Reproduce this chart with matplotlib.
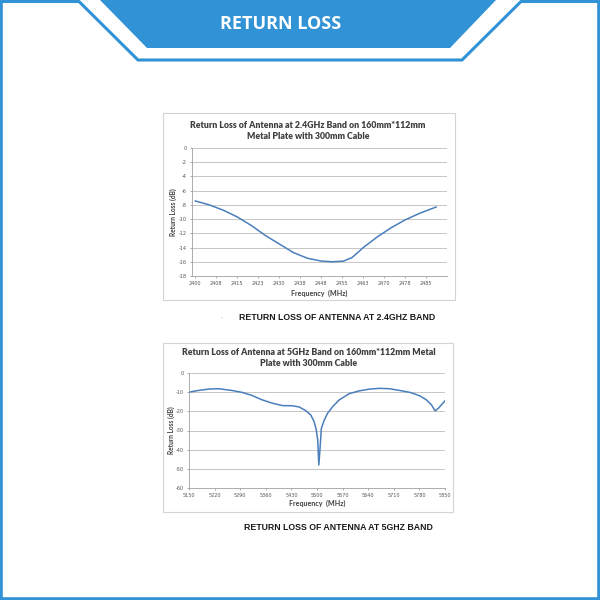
import matplotlib
matplotlib.use('Agg')
import matplotlib.pyplot as plt
from matplotlib.patches import Polygon, Rectangle

# Return loss at the 2.4 GHz band
freq_24 = [2400, 2405, 2410, 2415, 2420, 2425, 2430, 2435, 2440, 2445,
           2449, 2453, 2456, 2460, 2465, 2470, 2475, 2480, 2486]
rl_24 = [-7.45, -8.0, -8.75, -9.7, -10.9, -12.3, -13.5, -14.7, -15.5, -15.9,
         -16.0, -15.9, -15.4, -14.0, -12.5, -11.2, -10.1, -9.2, -8.3]
tick_labels_24 = ['2400', '2408', '2415', '2423', '2430', '2438',
                  '2448', '2455', '2463', '2470', '2478', '2485']

# Return loss at the 5 GHz band
freq_5 = [5150, 5176, 5203, 5231, 5267, 5295, 5322, 5350, 5377, 5405,
          5433, 5451, 5469, 5483, 5492, 5498, 5502, 5505, 5508, 5512,
          5520, 5529, 5543, 5561, 5588, 5616, 5644, 5671, 5698, 5726,
          5754, 5781, 5799, 5813, 5823, 5832, 5850]
rl_5 = [-10.0, -9.1, -8.4, -8.2, -9.1, -10.1, -11.7, -14.0, -15.7, -17.0,
        -17.1, -17.7, -19.6, -21.9, -25.3, -29.7, -35.0, -48.0, -40.2, -28.8,
        -24.5, -21.0, -17.5, -14.0, -10.8, -9.3, -8.4, -8.0, -8.2, -9.1,
        -10.1, -11.9, -14.0, -16.6, -19.8, -18.4, -14.5]
tick_labels_5 = ['5150', '5220', '5290', '5360', '5430', '5500',
                 '5570', '5640', '5710', '5780', '5850']

BLUE = '#3193d6'
LINE_BLUE = '#4a7ebb'
GRID = '#bdbdbd'
TXT = '#404040'
W, H = 600, 600


def px(x, y):
    """Pixel position (top-left origin) to figure fraction."""
    return x / W, 1 - y / H


def draw_frame(fig):
    # Decorative banner and page border, drawn in pixel space
    bg = fig.add_axes([0, 0, 1, 1], zorder=0)
    bg.set_xlim(0, W)
    bg.set_ylim(H, 0)
    bg.axis('off')

    bg.add_patch(Polygon([(100, 0), (496, 0), (450, 48), (147, 48)],
                         closed=True, facecolor=BLUE, edgecolor='none'))
    bg.plot([0, 79, 138, 462, 521, 600], [1.5, 1.5, 60, 60, 1.5, 1.5],
            color=BLUE, lw=2.2, solid_joinstyle='miter')
    bg.plot([1.2, 1.2, 598.8, 598.8], [0, 598.5, 598.5, 0],
            color=BLUE, lw=2.6)

    fig.text(*px(281, 24), 'RETURN LOSS', color='white', fontsize=13,
             fontweight='bold', family='Open Sans', ha='center', va='center')

    # light grey boxes around the two chart images
    bg.add_patch(Rectangle((163, 113), 292, 187, fill=False,
                           edgecolor='#d4d4d4', lw=0.8))
    bg.add_patch(Rectangle((163, 343), 290, 169, fill=False,
                           edgecolor='#d4d4d4', lw=0.8))


def draw_chart(fig, box, freq, rl, ticks, tick_labels, xlim, yticks,
               title, title_xy, ylabel_xy, xlabel_xy):
    left, top, right, bottom = box
    x0, y0 = px(left, bottom)
    ax = fig.add_axes([x0, y0, (right - left) / W, (bottom - top) / H], zorder=2)

    ax.plot(freq, rl, color=LINE_BLUE, lw=1.1)

    ax.set_xlim(*xlim)
    ax.set_ylim(yticks[-1], yticks[0])
    ax.set_xticks(ticks)
    ax.set_xticklabels(tick_labels)
    ax.set_yticks(yticks)
    ax.set_yticklabels([str(v) for v in yticks])
    ax.tick_params(labelsize=3.5, colors='#8c8c8c', labelcolor='#555555',
                   length=1.5, width=0.5, pad=2)
    ax.grid(True, axis='y', color=GRID, lw=0.6)
    ax.set_axisbelow(True)
    for side in ('top', 'right'):
        ax.spines[side].set_visible(False)
    for side in ('left', 'bottom'):
        ax.spines[side].set_color('#a0a0a0')
        ax.spines[side].set_linewidth(0.6)

    fig.text(*px(*title_xy), title, fontsize=6.3, fontweight='heavy',
             family='Lato', color=TXT, ha='center', va='center',
             linespacing=1.35)
    fig.text(*px(*ylabel_xy), 'Return Loss (dB)', fontsize=4.7,
             fontweight='bold', family='Lato', color=TXT, rotation=90,
             ha='center', va='center')
    fig.text(*px(*xlabel_xy), 'Frequency  (MHz)', fontsize=5.1,
             fontweight='bold', family='Lato', color=TXT,
             ha='center', va='center')
    return ax


def main():
    fig = plt.figure(figsize=(6, 6), dpi=100)
    fig.patch.set_facecolor('white')
    draw_frame(fig)

    ticks_24 = [2400 + 7.5 * i for i in range(len(tick_labels_24))]
    draw_chart(fig, (192, 148, 447, 276), freq_24, rl_24, ticks_24,
               tick_labels_24, (2398.8, 2489.9), list(range(0, -19, -2)),
               'Return Loss of Antenna at 2.4GHz Band on 160mm*112mm\n'
               'Metal Plate with 300mm Cable',
               (308, 131), (173, 212), (319, 293))

    ticks_5 = [int(t) for t in tick_labels_5]
    draw_chart(fig, (189, 373, 445, 488), freq_5, rl_5, ticks_5,
               tick_labels_5, (5150, 5850), list(range(0, -61, -10)),
               'Return Loss of Antenna at 5GHz Band on 160mm*112mm Metal\n'
               'Plate with 300mm Cable',
               (309, 358), (171, 430), (317, 503))

    # captions under each chart
    fig.text(*px(337.5, 318), 'RETURN LOSS OF ANTENNA AT 2.4GHZ BAND',
             fontsize=6.3, fontweight='bold', family='Liberation Sans',
             color='#1a1a1a', ha='center', va='center')
    fig.text(*px(222, 318), '-', fontsize=4, color='#999999',
             ha='center', va='center')
    fig.text(*px(338, 528), 'RETURN LOSS OF ANTENNA AT 5GHZ BAND',
             fontsize=6.3, fontweight='bold', family='Liberation Sans',
             color='#1a1a1a', ha='center', va='center')

    fig.savefig('out.png', dpi=100)


if __name__ == "__main__":
    main()
